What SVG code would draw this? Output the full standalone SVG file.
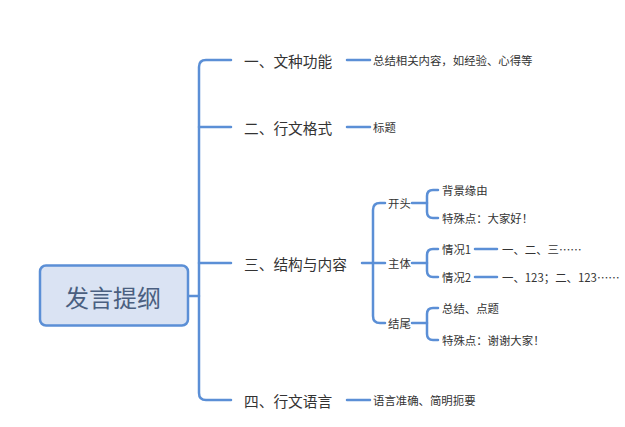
<svg xmlns="http://www.w3.org/2000/svg" width="625" height="427" viewBox="0 0 625 427">
<style>
.ln{fill:none;stroke:#5b8fd6;stroke-width:2.5;stroke-linecap:round;stroke-linejoin:round}
text{font-family:"Noto Sans CJK SC","Noto Sans",sans-serif;fill:#333;dominant-baseline:central}
.t1{font-size:14.7px}
.t2{font-size:11.4px}
.t3{font-size:11.4px}
</style>
<rect width="625" height="427" fill="#fff"/>
<g id="connectors">
<path class="ln" d="M188 296 H199"/>
<path class="ln" d="M231 60 H206 Q199 60 199 67 V393 Q199 400 206 400 H231"/>
<path class="ln" d="M199 127 H231"/>
<path class="ln" d="M199 263 H231"/>
<path class="ln" d="M347 60 H370"/>
<path class="ln" d="M347 127 H370"/>
<path class="ln" d="M347 400 H370"/>
<path class="ln" d="M362 263 H373"/>
<path class="ln" d="M385 203 H380 Q373 203 373 210 V316 Q373 323 380 323 H385"/>
<path class="ln" d="M373 263 H385"/>
<path class="ln" d="M412 203 H427"/>
<path class="ln" d="M438 190 H433 Q427 190 427 196 V212 Q427 218 433 218 H438"/>
<path class="ln" d="M412 263 H427"/>
<path class="ln" d="M438 249 H433 Q427 249 427 255 V271 Q427 277 433 277 H438"/>
<path class="ln" d="M412 323 H427"/>
<path class="ln" d="M438 308 H433 Q427 308 427 314 V334 Q427 340 433 340 H438"/>
<path class="ln" d="M475 249 H497"/>
<path class="ln" d="M475 277 H497"/>
</g>
<g id="root">
<rect x="40" y="265.5" width="148" height="60" rx="6" fill="#dae3f3" stroke="#5b8fd6" stroke-width="2.5"/>
<text x="113" y="296" text-anchor="middle" style="font-size:24px;fill:#4a5f80">发言提纲</text>
</g>
<g id="n1"><text class="t1" x="244" y="60">一、文种功能</text></g>
<g id="n1a"><text class="t2" x="373" y="60">总结相关内容，如经验、心得等</text></g>
<g id="n2"><text class="t1" x="244" y="127">二、行文格式</text></g>
<g id="n2a"><text class="t2" x="373" y="127">标题</text></g>
<g id="n3"><text class="t1" x="244" y="263">三、结构与内容</text></g>
<g id="n3a"><text class="t3" x="388" y="203">开头</text></g>
<g id="n3a1"><text class="t3" x="442" y="190">背景缘由</text></g>
<g id="n3a2"><text class="t3" x="442" y="218">特殊点：大家好！</text></g>
<g id="n3b"><text class="t3" x="388" y="263">主体</text></g>
<g id="n3b1"><text class="t3" x="442" y="249">情况1</text></g>
<g id="n3b1a"><text class="t2" x="502" y="249">一、二、三……</text></g>
<g id="n3b2"><text class="t3" x="442" y="277">情况2</text></g>
<g id="n3b2a"><text class="t2" x="502" y="277">一、123；二、123……</text></g>
<g id="n3c"><text class="t3" x="388" y="323">结尾</text></g>
<g id="n3c1"><text class="t3" x="442" y="308">总结、点题</text></g>
<g id="n3c2"><text class="t3" x="442" y="340">特殊点：谢谢大家！</text></g>
<g id="n4"><text class="t1" x="244" y="400">四、行文语言</text></g>
<g id="n4a"><text class="t2" x="373" y="400">语言准确、简明扼要</text></g>
</svg>
